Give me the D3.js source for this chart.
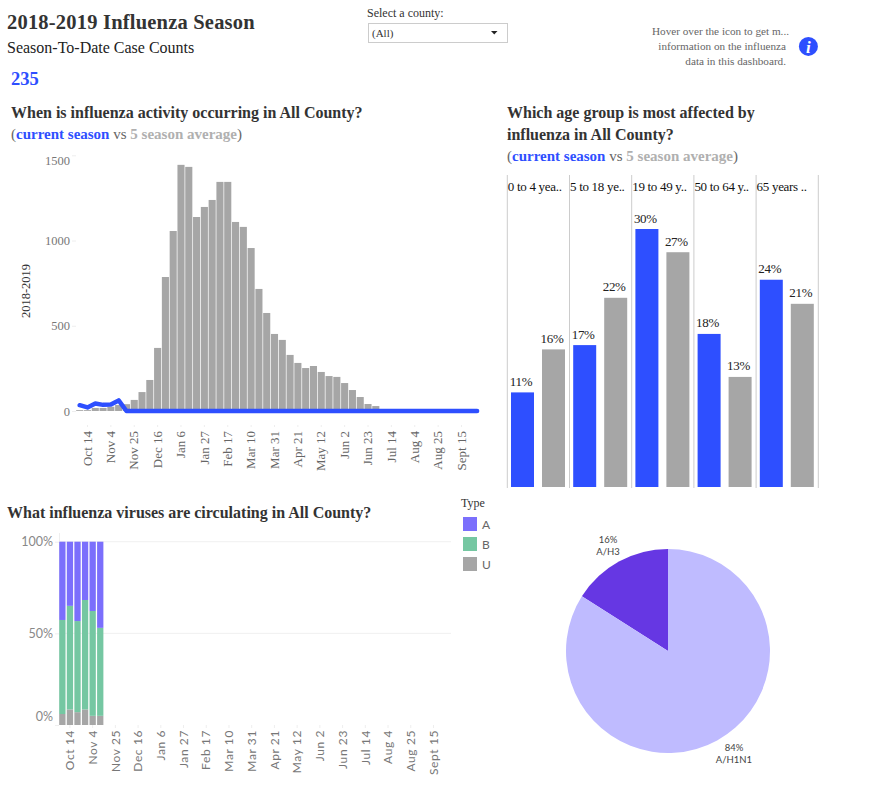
<!DOCTYPE html>
<html><head><meta charset="utf-8">
<script src="https://cdn.jsdelivr.net/npm/d3@7/dist/d3.min.js"></script>
<style>
html,body{margin:0;padding:0;background:#fff;overflow:hidden}
svg{display:block;font-family:"Liberation Serif",serif}
</style></head><body>
<svg id="c" width="870" height="792"></svg>
<script>
const weeks=["Oct 7","Oct 14","Oct 21","Oct 28","Nov 4","Nov 11","Nov 18","Nov 25","Dec 2","Dec 9","Dec 16","Dec 23","Dec 30","Jan 6","Jan 13","Jan 20","Jan 27","Feb 3","Feb 10","Feb 17","Feb 24","Mar 3","Mar 10","Mar 17","Mar 24","Mar 31","Apr 7","Apr 14","Apr 21","Apr 28","May 5","May 12","May 19","May 26","Jun 2","Jun 9","Jun 16","Jun 23","Jun 30","Jul 7","Jul 14","Jul 21","Jul 28","Aug 4","Aug 11","Aug 18","Aug 25","Sept 1","Sept 8","Sept 15","Sept 22","Sept 29"];
const tickWeeks=["Oct 14","Nov 4","Nov 25","Dec 16","Jan 6","Jan 27","Feb 17","Mar 10","Mar 31","Apr 21","May 12","Jun 2","Jun 23","Jul 14","Aug 4","Aug 25","Sept 15"];
const avgCases=[5,5,18,18,25,35,40,65,111,182,370,786,1056,1444,1432,1138,1197,1238,1344,1344,1109,1080,956,716,575,452,417,329,282,252,264,229,205,200,164,123,82,41,29,0,0,0,0,0,0,0,0,0,0,0,0,0];
const currentCases=[34,21,44,36,38,62,0,0,0,0,0,0,0,0,0,0,0,0,0,0,0,0,0,0,0,0,0,0,0,0,0,0,0,0,0,0,0,0,0,0,0,0,0,0,0,0,0,0,0,0,0,0];
const caseTicks=[0,500,1000,1500];
const ageGroups=["0 to 4 yea..","5 to 18 ye..","19 to 49 y..","50 to 64 y..","65 years .."];
const ageCurrent=[11,16.5,30,17.8,24.1];
const ageAverage=[16,22,27.3,12.8,21.3];
const typeWeeks=["Oct 7","Oct 14","Oct 21","Oct 28","Nov 4","Nov 11"];
const typeU=[6,8.5,7,8.5,5,5];
const typeB=[51.3,56.5,49.7,59.7,57.2,48];
const typeA=[42.7,35,43.3,31.8,37.8,47];
const typeNames=["A","B","U"];
const pctTicks=[0,50,100];
const subtypeNames=["A/H3","A/H1N1"];
const subtypeShares=[16,84];

const BLUE="#2e4fff",GRAY="#a6a6a6",DARK="#333333";
const typeColor=d3.scaleOrdinal(typeNames,["#7b6ffc","#75c7a2","#a6a6a6"]);
const svg=d3.select("#c");

function txt(x,y,s,size,opt={}){
  return svg.append("text").attr("x",x).attr("y",y).text(s)
    .attr("font-size",size).attr("fill",opt.fill||DARK)
    .attr("font-weight",opt.bold?"bold":"normal")
    .attr("text-anchor",opt.anchor||"start");
}
function rich(x,y,parts,size){
  const t=svg.append("text").attr("x",x).attr("y",y).attr("font-size",size);
  parts.forEach(p=>t.append("tspan").text(p[0]).attr("fill",p[1]).attr("font-weight",p[2]?"bold":"normal"));
}
const legendLine=[["(","#666"],["current season",BLUE,1],[" vs ","#666"],["5 season average","#b0b0b0",1],[")","#666"]];

// header
txt(7,29,"2018-2019 Influenza Season",20.5,{bold:1}).attr("letter-spacing",0.2);
txt(7,53,"Season-To-Date Case Counts",16,{fill:"#222"});
txt(11,85,"235",18.5,{bold:1,fill:BLUE});
txt(367,17,"Select a county:",12,{fill:"#333"});
svg.append("rect").attr("x",368.5).attr("y",23.5).attr("width",139).attr("height",19).attr("fill","#fff").attr("stroke","#ccc");
txt(372,37,"(All)",11,{fill:"#333"});
svg.append("path").attr("d","M491 31h6.5l-3.25 3.5z").attr("fill","#222");
txt(789,35,"Hover over the icon to get m...",11.2,{fill:"#666",anchor:"end"});
txt(786,50,"information on the influenza",11.2,{fill:"#666",anchor:"end"});
txt(786,65,"data in this dashboard.",11.2,{fill:"#666",anchor:"end"});
svg.append("circle").attr("cx",808.4).attr("cy",46.4).attr("r",9.5).attr("fill",BLUE);
txt(808.4,52.5,"i",17,{bold:1,fill:"#fff",anchor:"middle"}).attr("font-style","italic");

// panel titles
txt(11,118,"When is influenza activity occurring in All County?",16,{bold:1});
rich(11,139,legendLine,15);
txt(507,118,"Which age group is most affected by",16,{bold:1});
txt(507,140,"influenza in All County?",16,{bold:1});
rich(507,161,legendLine,15);
txt(7,518,"What influenza viruses are circulating in All County?",16,{bold:1});

// case chart
const x1=d3.scaleBand().domain(weeks).range([75.8,481]).paddingInner(0.09).paddingOuter(0.045);
const y1=d3.scaleLinear().domain([0,1500]).range([411,155.3]);
const g1=svg.append("g");
g1.selectAll("rect").data(avgCases).join("rect")
  .attr("x",(d,i)=>x1(weeks[i])).attr("width",x1.bandwidth())
  .attr("y",d=>y1(d)).attr("height",d=>y1(0)-y1(d)).attr("fill",GRAY);
const yAxis1=svg.append("g").attr("transform","translate(76,0)")
  .call(d3.axisLeft(y1).tickValues(caseTicks).tickSize(4).tickPadding(2).tickFormat(d3.format("d")));
yAxis1.select(".domain").remove();
yAxis1.selectAll("line").attr("stroke","#eee");
yAxis1.selectAll("text").attr("font-size",12.5).attr("fill","#777").style("font-family","Liberation Serif");
yAxis1.selectAll(".tick").filter(d=>d===1500).select("text").attr("y",5);
const xAxis1=svg.append("g").attr("transform","translate(0,425)")
  .call(d3.axisBottom(x1).tickValues(tickWeeks).tickSize(2).tickPadding(3));
xAxis1.select(".domain").remove();
xAxis1.selectAll("line").attr("stroke","#eee");
xAxis1.selectAll("text").attr("font-size",13).attr("fill","#666").style("font-family","Liberation Serif")
  .attr("text-anchor","end").attr("transform","rotate(-90)").attr("x",-6).attr("y",0).attr("dy","0.32em");
const line1=d3.line().x((d,i)=>x1(weeks[i])+x1.bandwidth()/2).y(d=>y1(d));
svg.append("path").datum(currentCases).attr("d",line1).attr("fill","none").attr("stroke",BLUE)
  .attr("stroke-width",4.5).attr("stroke-linejoin","round").attr("stroke-linecap","round");
svg.append("text").attr("transform","translate(30,291) rotate(-90)").attr("text-anchor","middle")
  .attr("font-size",12.5).attr("fill","#333").text("2018-2019");

// age chart
const xAge=d3.scaleBand().domain(ageGroups).range([507.3,818.3]);
const xSub=d3.scaleBand().domain(["current","average"]).range([3.7,57.7]).paddingInner(0.258);
const yAge=d3.scaleLinear().domain([0,30]).range([487,229]);
svg.selectAll(".sep").data([...ageGroups,"end"]).join("line").attr("class","sep")
  .attr("x1",d=>d==="end"?818.3:xAge(d)).attr("x2",d=>d==="end"?818.3:xAge(d))
  .attr("y1",175).attr("y2",488).attr("stroke","#ccc");
ageGroups.forEach((a,i)=>{
  const g=svg.append("g").attr("transform",`translate(${xAge(a)},0)`);
  g.append("text").attr("x",0.5).attr("y",191).attr("font-size",13).attr("letter-spacing",-0.3).attr("fill","#111").text(a);
  [["current",ageCurrent[i],BLUE],["average",ageAverage[i],GRAY]].forEach(([k,v,c])=>{
    g.append("rect").attr("x",xSub(k)).attr("width",xSub.bandwidth()).attr("y",yAge(v)).attr("height",yAge(0)-yAge(v)).attr("fill",c);
    g.append("text").attr("x",xSub(k)+xSub.bandwidth()/2-1.5).attr("y",yAge(v)-6.5).attr("text-anchor","middle")
      .attr("font-size",13).attr("letter-spacing",-0.3).attr("fill","#222").text(Math.round(v)+"%");
  });
});

// type chart
const x3=d3.scaleBand().domain(weeks).range([59,452]).paddingInner(0.17).paddingOuter(0.03);
const y3=d3.scaleLinear().domain([0,100]).range([725,541.7]);
const yAxis3=svg.append("g").attr("transform","translate(59,0)")
  .call(d3.axisLeft(y3).tickValues(pctTicks).tickSize(4).tickPadding(2).tickFormat(d=>d+"%"));
yAxis3.select(".domain").attr("stroke","#eee").attr("d","M0.5,533V725");
yAxis3.selectAll("line").attr("stroke","#eee");
yAxis3.selectAll("text").attr("font-size",12.5).attr("fill","#888").style("font-family","Lato");
yAxis3.selectAll(".tick").filter(d=>d===0).select("text").attr("y",-9);
svg.selectAll(".grid3").data(pctTicks.filter(d=>d>0)).join("line").attr("class","grid3")
  .attr("x1",59).attr("x2",451).attr("y1",d=>y3(d)).attr("y2",d=>y3(d)).attr("stroke","#f0f0f0");
const stack=d3.stack().keys(["U","B","A"])(typeWeeks.map((w,i)=>({w,U:typeU[i],B:typeB[i],A:typeA[i]})));
svg.append("g").selectAll("g").data(stack).join("g").attr("fill",d=>typeColor(d.key))
  .selectAll("rect").data(d=>d).join("rect")
  .attr("x",d=>x3(d.data.w)).attr("width",x3.bandwidth())
  .attr("y",d=>y3(d[1])).attr("height",d=>y3(d[0])-y3(d[1]));
const xAxis3=svg.append("g").attr("transform","translate(0,725)")
  .call(d3.axisBottom(x3).tickValues(tickWeeks).tickSize(3).tickPadding(3));
xAxis3.select(".domain").remove();
xAxis3.selectAll("line").attr("stroke","#eee");
xAxis3.selectAll("text").attr("font-size",12).attr("letter-spacing",0.6).attr("fill","#777").style("font-family","Lato")
  .attr("text-anchor","end").attr("transform","rotate(-90)").attr("x",-5).attr("y",0).attr("dy","0.35em");

// legend
txt(461,507,"Type",12,{fill:"#333"});
typeNames.forEach((n,i)=>{
  svg.append("rect").attr("x",463).attr("y",517+i*20).attr("width",14).attr("height",14).attr("fill",typeColor(n));
  svg.append("text").attr("x",482).attr("y",529+i*20).attr("font-size",12).attr("fill","#666").style("font-family","Lato").text(n);
});

// pie
const pieColor=d3.scaleOrdinal(subtypeNames,["#6637e3","#bfbbff"]);
const pie=d3.pie().sort(null).startAngle(0).endAngle(-2*Math.PI)(subtypeShares);
const arc=d3.arc().innerRadius(0).outerRadius(102);
svg.append("g").attr("transform","translate(668,651)").selectAll("path").data(pie).join("path")
  .attr("d",arc).attr("fill",(d,i)=>pieColor(subtypeNames[i]));
[[608,543,0],[734,751,1]].forEach(([x,y,i])=>{
  [subtypeShares[i]+"%",subtypeNames[i]].forEach((s,j)=>{
    svg.append("text").attr("x",x).attr("y",y+j*12).attr("text-anchor","middle").attr("font-size",9.5)
      .attr("fill","#444").style("font-family","Lato").text(s);
  });
});
</script></body></html>
